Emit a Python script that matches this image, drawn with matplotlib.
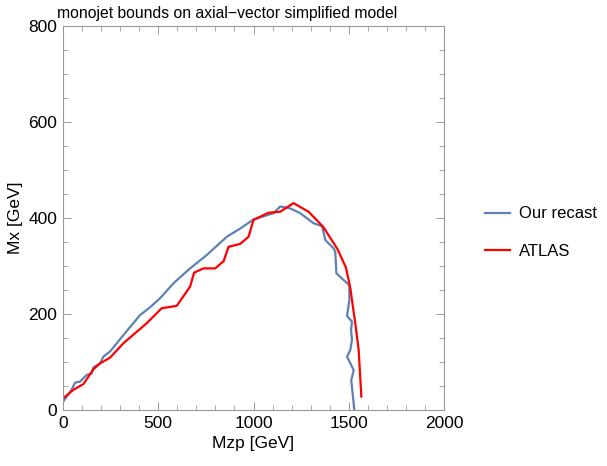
import numpy as np
import matplotlib.pyplot as plt
from matplotlib.ticker import MultipleLocator

plt.rcParams['font.family'] = ['Liberation Sans', 'DejaVu Sans']

# Our recast (blue)
recast_x = [0, 45, 63, 89, 124, 150, 160, 194, 212, 247, 317, 405, 457, 510,
            580, 667, 755, 860, 930, 1000, 1105, 1140, 1193, 1245, 1315, 1360,
            1377, 1420, 1429, 1435, 1464, 1503, 1503, 1491, 1517, 1512, 1517,
            1508, 1491, 1526, 1513, 1522, 1529]
recast_y = [17, 42, 57, 59, 73, 76, 89, 97, 111, 122, 156, 198, 214, 233,
            264, 295, 323, 361, 378, 397, 410, 424, 420, 410, 389, 383,
            354, 337, 330, 285, 274, 260, 229, 196, 184, 167, 146,
            125, 111, 83, 62, 28, 0]

# ATLAS (red)
atlas_x = [0, 54, 107, 160, 194, 247, 317, 440, 518, 597, 667, 688, 737, 799,
           843, 869, 930, 974, 1000, 1079, 1140, 1210, 1289, 1365, 1441, 1485,
           1508, 1534, 1552, 1566]
atlas_y = [24, 42, 54, 85, 97, 109, 139, 181, 212, 217, 257, 286, 295, 295,
           310, 340, 346, 361, 396, 411, 413, 431, 413, 382, 335, 297,
           254, 181, 125, 28]

fig = plt.figure(figsize=(6.07, 4.66), dpi=100)
ax = fig.add_axes([0.1038, 0.1202, 0.6277, 0.8240])

ax.plot(recast_x, recast_y, color='#5E81B5', lw=1.6, label='Our recast')
ax.plot(atlas_x, atlas_y, color='#FF0000', lw=1.6, label='ATLAS')

ax.set_xlim(0, 2000)
ax.set_ylim(0, 800)
ax.xaxis.set_major_locator(MultipleLocator(500))
ax.xaxis.set_minor_locator(MultipleLocator(100))
ax.yaxis.set_major_locator(MultipleLocator(200))
ax.yaxis.set_minor_locator(MultipleLocator(50))
ax.tick_params(which='both', direction='in', top=True, right=True,
               color='#999999', labelsize=12.5, labelcolor='black', pad=4)
ax.tick_params(which='major', length=6, width=0.7)
ax.tick_params(which='minor', length=3.5, width=0.6)
for s in ax.spines.values():
    s.set_color('#999999')
    s.set_linewidth(0.8)

ax.set_xlabel('Mzp [GeV]', fontsize=12.5, labelpad=4)
ax.set_ylabel('Mx [GeV]', fontsize=12.5, labelpad=4)
fig.text(0.094, 0.972, 'monojet bounds on axial\u2212vector simplified model',
         fontsize=11.3, ha='left', va='center')

ax.legend(loc='center left', bbox_to_anchor=(1.108, 0.462), frameon=False,
          fontsize=12, handlelength=1.5, labelspacing=1.35, handletextpad=0.55,
          borderpad=0, borderaxespad=0)

fig.savefig('out.png', dpi=100)
